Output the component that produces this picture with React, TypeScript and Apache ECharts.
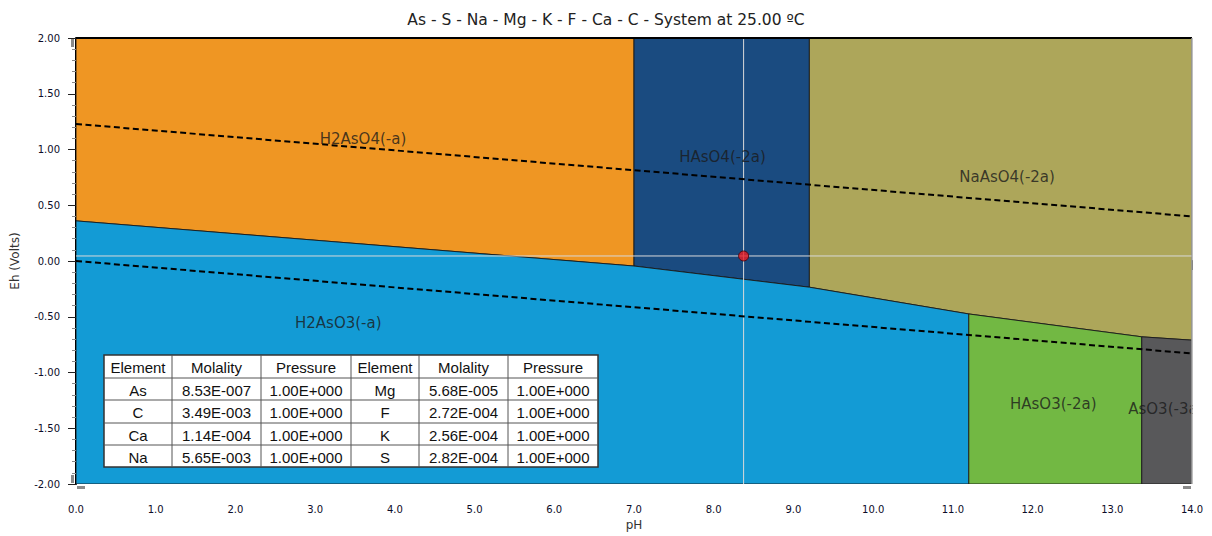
import React, { useEffect, useRef } from "react";
import * as echarts from "echarts";

// ---------- data ----------
const titleText = "As - S - Na - Mg - K - F - Ca - C - System at 25.00 ºC";
const xTicks = [0, 14, 1]; // min, max, interval (pH)
const yTicks = [-2, 2, 0.5]; // min, max, interval (Eh)

const regionNames = ["H2AsO4(-a)", "HAsO4(-2a)", "NaAsO4(-2a)", "H2AsO3(-a)", "HAsO3(-2a)", "AsO3(-3a)"];
const regionColors = ["#EF9623", "#1A4B80", "#ADA65A", "#139BD5", "#72B843", "#58585A"];
const polyH2AsO4 = [[0, 2], [7, 2], [7, -0.045], [0, 0.36]];
const polyHAsO4 = [[7, 2], [9.2, 2], [9.2, -0.235], [7, -0.045]];
const polyNaAsO4 = [[9.2, 2], [14, 2], [14, -0.71], [13.37, -0.68], [11.2, -0.475], [9.2, -0.235]];
const polyH2AsO3 = [[0, 0.36], [7, -0.045], [9.2, -0.235], [11.2, -0.475], [11.2, -2], [0, -2]];
const polyHAsO3 = [[11.2, -0.475], [13.37, -0.68], [13.37, -2], [11.2, -2]];
const polyAsO3 = [[13.37, -0.68], [14, -0.71], [14, -2], [13.37, -2]];
const regionPolys = [polyH2AsO4, polyHAsO4, polyNaAsO4, polyH2AsO3, polyHAsO3, polyAsO3];
const regionLabelPos = [[3.6, 1.094], [8.11, 0.933], [11.68, 0.753], [3.29, -0.556], [12.26, -1.283], [13.2, -1.327]];

const waterUpper = [[0, 1.229], [14, 0.4]];
const waterLower = [[0, 0], [14, -0.829]];
const samplePoint = [8.375, 0.045];

const tableHeader = ["Element", "Molality", "Pressure", "Element", "Molality", "Pressure"];
const elementsA = ["As", "C", "Ca", "Na"];
const molalityA = ["8.53E-007", "3.49E-003", "1.14E-004", "5.65E-003"];
const pressureA = ["1.00E+000", "1.00E+000", "1.00E+000", "1.00E+000"];
const elementsB = ["Mg", "F", "K", "S"];
const molalityB = ["5.68E-005", "2.72E-004", "2.56E-004", "2.82E-004"];
const pressureB = ["1.00E+000", "1.00E+000", "1.00E+000", "1.00E+000"];

// ---------- layout ----------
const W = 1212, H = 536;
const G = { left: 76, right: 1192, top: 38, bottom: 484 };
const tableCols = [104, 172, 261, 351, 419, 508, 598];
const tableRows = [355, 378, 400, 423, 445, 467];

const FONT = "'DejaVu Sans', Verdana, sans-serif";
const TFONT = "'Liberation Sans', Arial, sans-serif";

function buildTable() {
  const els: any[] = [];
  const x0 = tableCols[0], x1 = tableCols[tableCols.length - 1];
  const y0 = tableRows[0], y1 = tableRows[tableRows.length - 1];
  els.push({ type: "rect", z: 100, shape: { x: x0, y: y0, width: x1 - x0, height: y1 - y0 }, style: { fill: "#fff", stroke: "#333", lineWidth: 1.5 } });
  tableCols.slice(1, -1).forEach((cx) => els.push({ type: "line", z: 101, shape: { x1: cx, y1: y0, x2: cx, y2: y1 }, style: { stroke: "#555", lineWidth: 1 } }));
  tableRows.slice(1, -1).forEach((ry) => els.push({ type: "line", z: 101, shape: { x1: x0, y1: ry, x2: x1, y2: ry }, style: { stroke: "#555", lineWidth: 1 } }));
  const rows = [tableHeader];
  for (let i = 0; i < elementsA.length; i++) rows.push([elementsA[i], molalityA[i], pressureA[i], elementsB[i], molalityB[i], pressureB[i]]);
  rows.forEach((r, ri) => r.forEach((t, ci) => {
    els.push({
      type: "text", z: 102,
      x: (tableCols[ci] + tableCols[ci + 1]) / 2,
      y: (tableRows[ri] + tableRows[ri + 1]) / 2 + 1,
      style: {
        text: t, align: "center", verticalAlign: "middle",
        font: `15px ${TFONT}`, fontFamily: TFONT, fontSize: 15, fill: "#111",
      },
    });
  }));
  return els;
}

export default function App() {
  const ref = useRef<HTMLDivElement>(null);
  useEffect(() => {
    if (!ref.current) return;
    const chart = echarts.init(ref.current, null, { renderer: "svg" });
    const labelData = regionNames.map((n, i) => ({
      name: n,
      value: regionLabelPos[i],
      label: i === 5 ? { align: "left" } : {},
    }));
    chart.setOption({
      animation: false,
      backgroundColor: "#fff",
      title: {
        text: titleText, left: "center", top: 7,
        textStyle: { fontFamily: FONT, fontSize: 15.5, fontWeight: "normal", color: "#222" },
      },
      grid: { left: G.left, right: W - G.right, top: G.top, bottom: H - G.bottom, containLabel: false },
      xAxis: {
        type: "value", min: xTicks[0], max: xTicks[1], interval: xTicks[2],
        name: "pH", nameLocation: "middle", nameGap: 30,
        nameTextStyle: { fontFamily: FONT, fontSize: 12, color: "#333" },
        axisLine: { show: true, lineStyle: { color: "#000", width: 2 } },
        axisTick: { show: true, length: 9, lineStyle: { color: "#222" } },
        minorTick: { show: true, splitNumber: 5, length: 4, lineStyle: { color: "#888" } },
        splitLine: { show: false },
        axisLabel: { margin: 20, fontFamily: FONT, fontSize: 10, color: "#0c0c28", formatter: (v: number) => v.toFixed(1) },
      },
      yAxis: {
        type: "value", min: yTicks[0], max: yTicks[1], interval: yTicks[2],
        name: "Eh (Volts)", nameLocation: "middle", nameGap: 55,
        nameTextStyle: { fontFamily: FONT, fontSize: 12, color: "#333" },
        axisLine: { show: true, onZero: false, lineStyle: { color: "#000", width: 2 } },
        axisTick: { show: true, length: 8, lineStyle: { color: "#222" } },
        minorTick: { show: true, splitNumber: 5, length: 4, lineStyle: { color: "#888" } },
        splitLine: { show: false },
        axisLabel: { margin: 16, fontFamily: FONT, fontSize: 10, color: "#0c0c28", formatter: (v: number) => v.toFixed(2) },
      },
      series: [
        {
          type: "custom", z: 1, clip: true,
          data: regionNames.map((n, i) => ({ name: n, value: [i, 0] })),
          renderItem: (params: any, api: any) => {
            const i = params.dataIndex;
            const pts = regionPolys[i].map((p) => api.coord(p));
            return { type: "polygon", shape: { points: pts }, style: { fill: regionColors[i], stroke: "#1a1a1a", lineWidth: 0.9 } };
          },
          silent: true,
        },
        {
          type: "line", z: 3, data: [[samplePoint[0], yTicks[0]], [samplePoint[0], yTicks[1]]],
          symbol: "none", lineStyle: { color: "#d9d9d9", width: 1 }, silent: true,
        },
        {
          type: "line", z: 3, data: [[xTicks[0], samplePoint[1]], [xTicks[1], samplePoint[1]]],
          symbol: "none", lineStyle: { color: "#d9d9d9", width: 1 }, silent: true,
        },
        {
          type: "line", z: 4, data: waterUpper, symbol: "none",
          lineStyle: { color: "#000", width: 2, type: [6, 3.5] }, silent: true,
        },
        {
          type: "line", z: 4, data: waterLower, symbol: "none",
          lineStyle: { color: "#000", width: 2, type: [6, 3.5] }, silent: true,
        },
        {
          type: "scatter", z: 6, data: [samplePoint], symbolSize: 10,
          itemStyle: { color: "#EC1B22", borderColor: "#4a0000", borderWidth: 1 }, silent: true,
        },
        {
          type: "scatter", z: 5, data: labelData, symbolSize: 1,
          itemStyle: { color: "rgba(0,0,0,0)" },
          label: {
            show: true, position: "inside", formatter: "{b}",
            fontFamily: FONT, fontSize: 15, color: "#1a1a1a",
          },
          silent: true,
        },
      ],
      graphic: [
        // clip label overflow to the right of the plot
        { type: "rect", z: 50, shape: { x: G.right + 1, y: G.top - 2, width: W - G.right, height: G.bottom - G.top + 2 }, style: { fill: "#fff" } },
        { type: "line", z: 60, shape: { x1: G.left, y1: G.top, x2: G.right, y2: G.top }, style: { stroke: "#000", lineWidth: 2 } },
        { type: "line", z: 60, shape: { x1: G.right, y1: G.top, x2: G.right, y2: G.bottom }, style: { stroke: "#a8a8a8", lineWidth: 1.5 } },
        // scroll thumbs
        { type: "rect", z: 60, shape: { x: 71, y: G.top + 1, width: 3, height: 8 }, style: { fill: "#8a8a8a" } },
        { type: "rect", z: 60, shape: { x: 71, y: G.bottom - 9, width: 3, height: 8 }, style: { fill: "#8a8a8a" } },
        { type: "rect", z: 60, shape: { x: G.left + 1, y: G.bottom + 2, width: 8, height: 3 }, style: { fill: "#8a8a8a" } },
        { type: "rect", z: 60, shape: { x: G.right - 9, y: G.bottom + 2, width: 8, height: 3 }, style: { fill: "#8a8a8a" } },
        ...buildTable(),
      ],
    });
    return () => chart.dispose();
  }, []);
  return <div ref={ref} style={{ position: "fixed", left: 0, top: 0, width: W, height: H }} />;
}
